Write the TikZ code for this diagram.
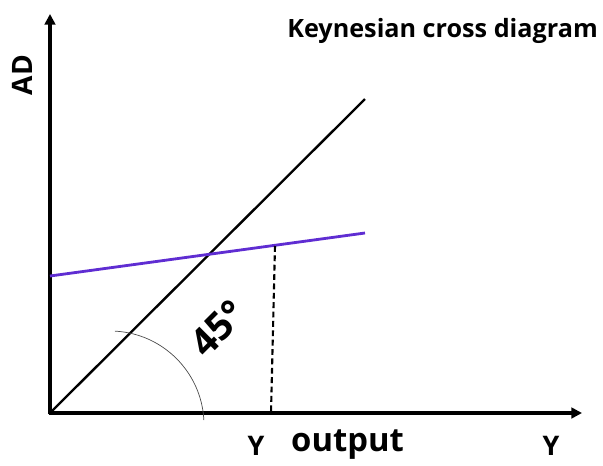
\documentclass[tikz,border=0pt]{standalone}
\usepackage{fontspec}
\setmainfont{Open Sans}
\usetikzlibrary{arrows.meta}
\definecolor{adpurple}{RGB}{95,45,210}
\begin{document}
\begin{tikzpicture}[x=0.03cm,y=-0.03cm,
  axis/.style={line width=2.6pt,-{Triangle[length=9pt,width=9pt]}},
  lbl/.style={inner sep=0pt,font=\bfseries}]
\useasboundingbox (0,0) rectangle (603,465);
\coordinate (O) at (50,413);
\coordinate (ytop) at (50,14);
\coordinate (xend) at (582,413);
\coordinate (xstart) at (48.7,413);
\coordinate (ybot) at (50,414.3);
\coordinate (lend) at (365,99);
\coordinate (ps) at (50,276);
\coordinate (pe) at (365,233);
\coordinate (dtop) at (275,246);
\coordinate (dbot) at (271,413);
% axes
\draw[axis] (ybot) -- (ytop);
\draw[axis] (xstart) -- (xend);
% 45 degree line
\draw[line width=2pt] (O) -- (lend);
% AD line
\draw[line width=2.4pt,adpurple] (ps) -- (pe);
% dashed
\draw[line width=1.8pt,dash pattern=on 5pt off 3pt] (dtop) -- (dbot);
% arc
\draw[line width=0.6pt,black!70] (110,425) ++(-87:94) arc[start angle=-87,end angle=-3,radius=94];
% labels
\node[lbl,rotate=90,font=\fontsize{24}{24}\selectfont\bfseries] (ad) at (22,75) {AD};
\node[lbl,font=\fontsize{21.5}{22}\selectfont\bfseries,anchor=east] (title) at (598,31) {Keynesian cross diagram};
\node[lbl,rotate=45,font=\fontsize{33}{33}\selectfont\bfseries] (deg) at (218,328) {45°};
\node[lbl,font=\fontsize{23}{23}\selectfont\bfseries] (y1) at (256,446) {Y};
\node[lbl,font=\fontsize{28}{28}\selectfont\bfseries,anchor=west] (out) at (291,445) {output};
\node[lbl,font=\fontsize{23}{23}\selectfont\bfseries] (y2) at (551,446) {Y};
\end{tikzpicture}
\end{document}
